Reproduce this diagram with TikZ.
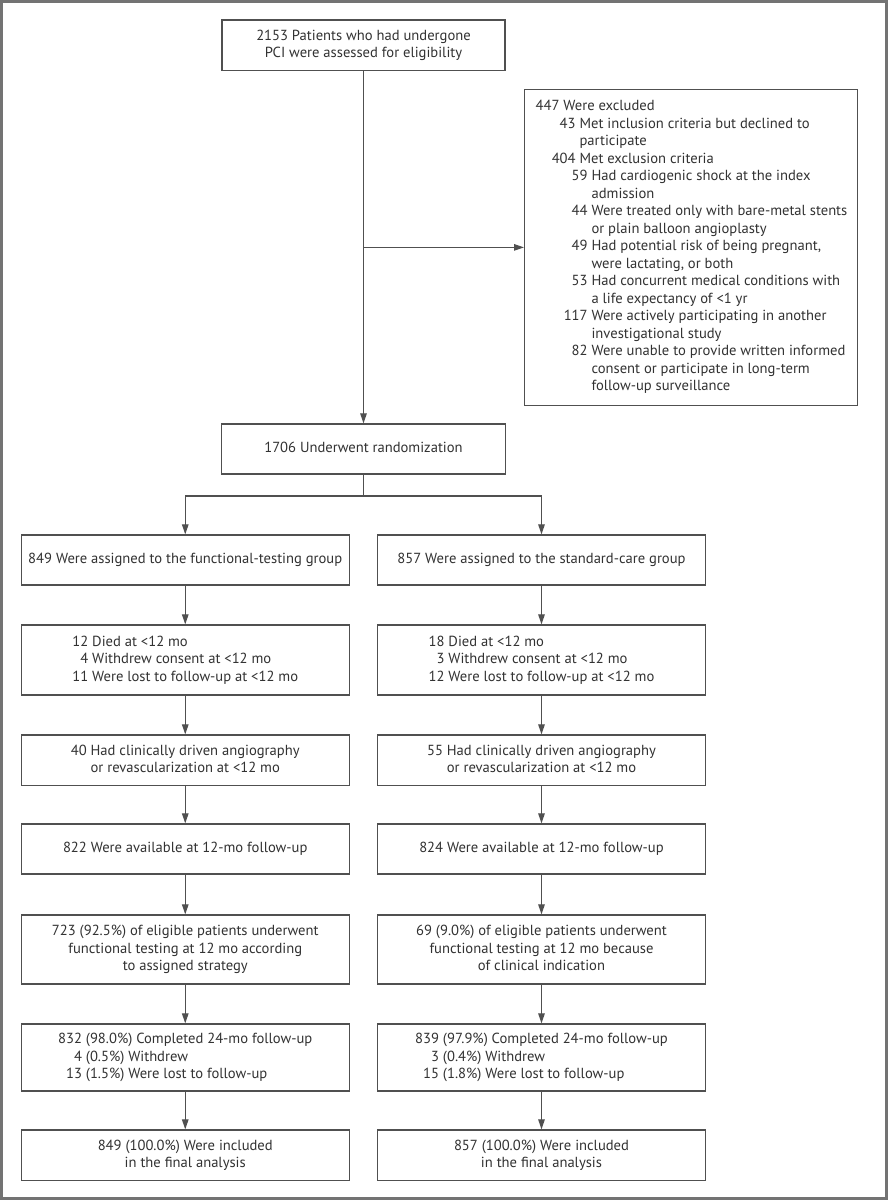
\documentclass[tikz,border=0pt]{standalone}
\usepackage{fontspec}
\setmainfont{PT Sans}
\usetikzlibrary{arrows.meta}
\definecolor{boxline}{RGB}{80,80,80}
\definecolor{txt}{RGB}{50,50,50}
\definecolor{framec}{RGB}{115,115,115}
\newcommand\tb[1]{\begin{tabular}{@{}c@{}}#1\end{tabular}}
\newcommand\nA[1]{\makebox[40pt][r]{#1}\ }
\newcommand\nB[1]{\makebox[52pt][r]{#1}\ }
\newcommand\cA{\hspace*{40pt}\ }
\newcommand\cB{\hspace*{52pt}\ }
\begin{document}
\begin{tikzpicture}[x=1pt,y=-1pt,
  every node/.style={font=\fontsize{14.6}{17.5}\selectfont, text=txt},
  box/.style={draw=boxline, line width=1.3pt, inner sep=0pt, align=center},
  colbox/.style={box, minimum width=328pt},
  arr/.style={draw=boxline, line width=1.2pt, -{Triangle[length=10pt,width=6.5pt]}},
  line/.style={draw=boxline, line width=1.2pt},
  framestyle/.style={draw=framec, line width=2.6pt}
]
\fill[white] (0,0) rectangle (888,1200);
\useasboundingbox (0,0) rectangle (888,1200);
\draw[framestyle] (1.5,1.5) rectangle (886.5,1198.5);

% top part
\node[box, minimum width=283pt, minimum height=50.5pt] (top) at (363.5,45.25)
  {\tb{2153 Patients who had undergone\\PCI were assessed for eligibility}};

\node[box, anchor=north west, inner xsep=11pt, inner ysep=0pt, minimum height=315.5pt] (excl) at (524,89)
  {\makebox[311pt][l]{\begin{tabular}{@{}l@{}}
  447 Were excluded\\
  \nA{43}Met inclusion criteria but declined to\\
  \cA participate\\
  \nA{404}Met exclusion criteria\\
  \nB{59}Had cardiogenic shock at the index\\
  \cB admission\\
  \nB{44}Were treated only with bare-metal stents\\
  \cB or plain balloon angioplasty\\
  \nB{49}Had potential risk of being pregnant,\\
  \cB were lactating, or both\\
  \nB{53}Had concurrent medical conditions with\\
  \cB a life expectancy of <1 yr\\
  \nB{117}Were actively participating in another\\
  \cB investigational study\\
  \nB{82}Were unable to provide written informed\\
  \cB consent or participate in long-term\\
  \cB follow-up surveillance
  \end{tabular}}};

\node[box, minimum width=284pt, minimum height=50pt] (rand) at (363.5,449)
  {\tb{1706 Underwent randomization}};

% left column
\node[colbox, minimum height=50pt] (L1) at (185.25,560)
  {\tb{849 Were assigned to the functional-testing group}};
\node[colbox, minimum height=70pt] (L2) at (185.25,660)
  {\begin{tabular}{@{}r@{\ }l@{}}12 & Died at <12 mo\\ 4 & Withdrew consent at <12 mo\\ 11 & Were lost to follow-up at <12 mo\end{tabular}};
\node[colbox, minimum height=50.5pt] (L3) at (185.25,760.25)
  {\tb{40 Had clinically driven angiography\\or revascularization at <12 mo}};
\node[colbox, minimum height=50pt] (L4) at (185.25,849)
  {\tb{822 Were available at 12-mo follow-up}};
\node[colbox, minimum height=69pt] (L5) at (185.25,949.5)
  {\tb{723 (92.5\%) of eligible patients underwent\\functional testing at 12 mo according\\to assigned strategy}};
\node[colbox, minimum height=67pt] (L6) at (185.25,1057.5)
  {\begin{tabular}{@{}r@{\ }l@{}}832 & (98.0\%) Completed 24-mo follow-up\\ 4 & (0.5\%) Withdrew\\ 13 & (1.5\%) Were lost to follow-up\end{tabular}};
\node[colbox, minimum height=50.5pt] (L7) at (185.25,1155.25)
  {\tb{849 (100.0\%) Were included\\in the final analysis}};

% right column
\node[colbox, minimum height=50pt] (R1) at (541.5,560)
  {\tb{857 Were assigned to the standard-care group}};
\node[colbox, minimum height=70pt] (R2) at (541.5,660)
  {\begin{tabular}{@{}r@{\ }l@{}}18 & Died at <12 mo\\ 3 & Withdrew consent at <12 mo\\ 12 & Were lost to follow-up at <12 mo\end{tabular}};
\node[colbox, minimum height=50.5pt] (R3) at (541.5,760.25)
  {\tb{55 Had clinically driven angiography\\or revascularization at <12 mo}};
\node[colbox, minimum height=50pt] (R4) at (541.5,849)
  {\tb{824 Were available at 12-mo follow-up}};
\node[colbox, minimum height=69pt] (R5) at (541.5,949.5)
  {\tb{69 (9.0\%) of eligible patients underwent\\functional testing at 12 mo because\\of clinical indication}};
\node[colbox, minimum height=67pt] (R6) at (541.5,1057.5)
  {\begin{tabular}{@{}r@{\ }l@{}}839 & (97.9\%) Completed 24-mo follow-up\\ 3 & (0.4\%) Withdrew\\ 15 & (1.8\%) Were lost to follow-up\end{tabular}};
\node[colbox, minimum height=50.5pt] (R7) at (541.5,1155.25)
  {\tb{857 (100.0\%) Were included\\in the final analysis}};

% connectors
\draw[arr] (top.south) -- (rand.north);
\draw[arr] (top.south |- excl.west) -- (excl.west);
\coordinate (split) at (363.5,496);
\draw[line] (rand.south) -- (split);
\draw[arr] (split) -| (L1.north);
\draw[arr] (split) -| (R1.north);
\foreach \c in {L,R}{
  \draw[arr] (\c1.south) -- (\c2.north);
  \draw[arr] (\c2.south) -- (\c3.north);
  \draw[arr] (\c3.south) -- (\c4.north);
  \draw[arr] (\c4.south) -- (\c5.north);
  \draw[arr] (\c5.south) -- (\c6.north);
  \draw[arr] (\c6.south) -- (\c7.north);
}
\end{tikzpicture}
\end{document}
